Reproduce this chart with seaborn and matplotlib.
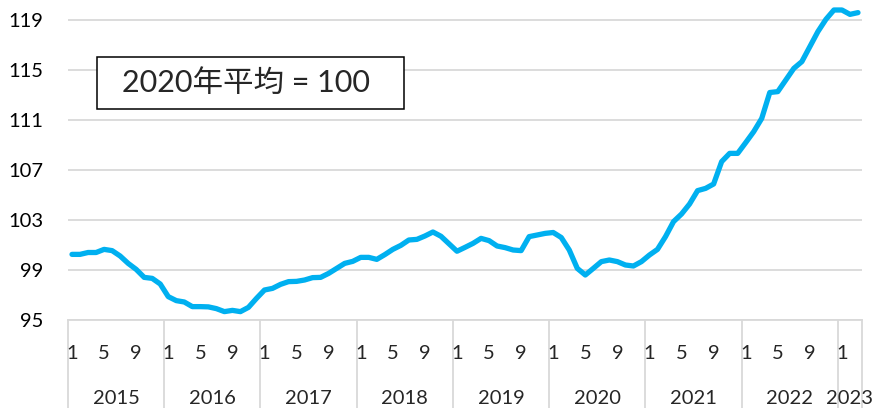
import numpy as np
import seaborn as sns
import matplotlib.pyplot as plt
from matplotlib.patches import Rectangle
import matplotlib.transforms as mtransforms

# ----------------------------
# Data (monthly index, 2020 average = 100), Jan 2015 - Mar 2023
# ----------------------------
years = ["2015", "2016", "2017", "2018", "2019", "2020", "2021", "2022", "2023"]
months_per_year = [12, 12, 12, 12, 12, 12, 12, 12, 3]
month_labels = ["1", "5", "9"]

v2015 = [100.25, 100.25, 100.4, 100.4, 100.65, 100.55, 100.12, 99.53, 99.05, 98.41, 98.33, 97.88]
v2016 = [96.87, 96.55, 96.44, 96.07, 96.07, 96.05, 95.91, 95.67, 95.77, 95.67, 96.01, 96.73]
v2017 = [97.4, 97.53, 97.85, 98.07, 98.09, 98.2, 98.39, 98.41, 98.73, 99.13, 99.53, 99.69]
v2018 = [100.01, 100.01, 99.85, 100.23, 100.65, 100.97, 101.4, 101.45, 101.72, 102.04, 101.7, 101.1]
v2019 = [100.5, 100.81, 101.13, 101.53, 101.35, 100.92, 100.79, 100.6, 100.55, 101.67, 101.8, 101.93]
v2020 = [102.0, 101.6, 100.6, 99.13, 98.6, 99.13, 99.67, 99.8, 99.67, 99.4, 99.32, 99.67]
v2021 = [100.2, 100.65, 101.67, 102.87, 103.48, 104.28, 105.35, 105.53, 105.88, 107.67, 108.33, 108.33]
v2022 = [109.19, 110.07, 111.13, 113.2, 113.27, 114.2, 115.13, 115.67, 116.87, 118.07, 119.05, 119.8]
v2023 = [119.8, 119.45, 119.59]

values = v2015 + v2016 + v2017 + v2018 + v2019 + v2020 + v2021 + v2022 + v2023
idx = np.arange(len(values))

yticks = [95, 99, 103, 107, 111, 115, 119]

# ----------------------------
# Style
# ----------------------------
sns.set_style("white")
plt.rcParams['font.family'] = ['Lato', 'Noto Sans CJK JP', 'DejaVu Sans']

grid_c = "#D9D9D9"
line_c = "#00B0F0"

fig = plt.figure(figsize=(8.75, 4.08), dpi=100)
ax = fig.add_axes([68 / 875, 1 - 320 / 408, (862 - 68) / 875, (320 - 7.5) / 408])

sns.lineplot(x=idx, y=values, ax=ax, color=line_c, linewidth=3.8, clip_on=False)

ax.set_xlim(-0.5, len(values) - 0.5)
ax.set_ylim(95, 120)
ax.set_yticks(yticks)
ax.set_yticklabels([str(t) for t in yticks])
ax.tick_params(axis="y", length=0, pad=18, labelsize=14.5, colors="black")
ax.set_xticks([])
ax.set_xlabel("")
ax.set_ylabel("")

ax.yaxis.grid(True, color=grid_c, linewidth=1.3)
ax.set_axisbelow(True)
for s in ["top", "right", "left"]:
    ax.spines[s].set_visible(False)
ax.spines["bottom"].set_color(grid_c)
ax.spines["bottom"].set_linewidth(1.3)

# ----------------------------
# Two-level category axis (month / year)
# ----------------------------
trans = mtransforms.blended_transform_factory(ax.transData, ax.transAxes)
start = 0
bounds = [-0.5]
for yr, n in zip(years, months_per_year):
    for m in range(0, n, 4):
        ax.text(start + m, -0.106, month_labels[m // 4], transform=trans,
                ha="center", va="center", fontsize=14.5)
    ax.text(start + (n - 1) / 2, -0.25, yr, transform=trans,
            ha="center", va="center", fontsize=14.5)
    start += n
    bounds.append(start - 0.5)

for b in bounds:
    ax.plot([b, b], [0, -0.3], transform=trans, color=grid_c,
            linewidth=1.3, clip_on=False)

# ----------------------------
# Base-year note box
# ----------------------------
fig.patches.append(Rectangle((97 / 875, 1 - 109 / 408), 307 / 875, 52 / 408,
                             transform=fig.transFigure, facecolor="white",
                             edgecolor="black", linewidth=1.1))
fig.text(246 / 875, 1 - 83 / 408, "2020年平均 = 100", ha="center", va="center",
         fontsize=22)

fig.savefig("out.png", dpi=100)
plt.close()
